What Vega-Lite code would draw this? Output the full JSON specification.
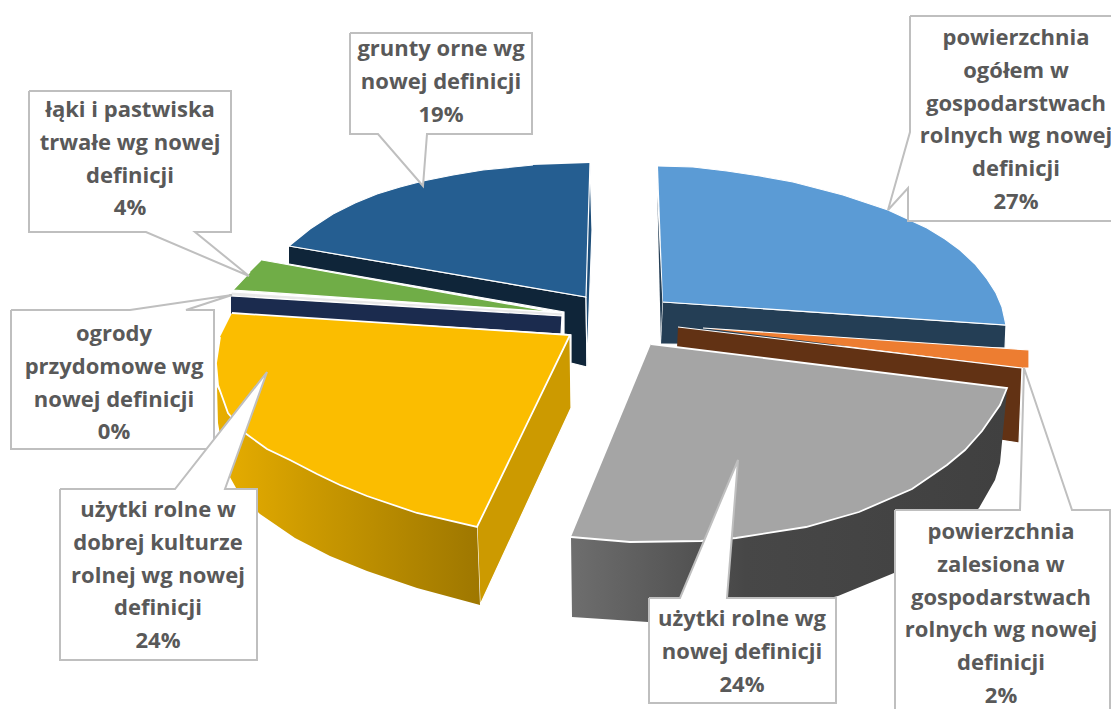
{
"$schema":"https://vega.github.io/schema/vega-lite/v6.json",
"width":1111,"height":709,"autosize":{"type":"none"},"padding":0,"background":"white",
"view":{"stroke":null},
"datasets":{
"shapes":[
{"g":"back","s":"grunty wall","x":289,"y":246},{"g":"back","s":"grunty wall","x":586,"y":297},{"g":"back","s":"grunty wall","x":587,"y":367},{"g":"back","s":"grunty wall","x":571,"y":363},{"g":"back","s":"grunty wall","x":571,"y":335},{"g":"back","s":"grunty wall","x":564,"y":334},{"g":"back","s":"grunty wall","x":564,"y":312},{"g":"back","s":"grunty wall","x":289,"y":264},
{"g":"back","s":"grunty side","x":590,"y":163},{"g":"back","s":"grunty side","x":592,"y":230},{"g":"back","s":"grunty side","x":587,"y":367},{"g":"back","s":"grunty side","x":586,"y":297},
{"g":"back","s":"grunty top","x":590,"y":163},{"g":"back","s":"grunty top","x":586,"y":297},{"g":"back","s":"grunty top","x":289,"y":246},{"g":"back","s":"grunty top","x":310,"y":229},{"g":"back","s":"grunty top","x":333,"y":214},{"g":"back","s":"grunty top","x":355,"y":203},{"g":"back","s":"grunty top","x":377,"y":194},{"g":"back","s":"grunty top","x":400,"y":187},{"g":"back","s":"grunty top","x":423,"y":181},{"g":"back","s":"grunty top","x":453,"y":175},{"g":"back","s":"grunty top","x":483,"y":170},{"g":"back","s":"grunty top","x":533,"y":165},
{"g":"back","s":"green top","x":262,"y":260},{"g":"back","s":"green top","x":553,"y":312},{"g":"back","s":"green top","x":233,"y":290},{"g":"back","s":"green top","x":250,"y":272},
{"g":"back","s":"ogrody top","x":232,"y":292},{"g":"back","s":"ogrody top","x":563,"y":313},{"g":"back","s":"ogrody top","x":562,"y":316},{"g":"back","s":"ogrody top","x":231,"y":296},
{"g":"back","s":"ogrody wall","x":231,"y":296},{"g":"back","s":"ogrody wall","x":562,"y":316},{"g":"back","s":"ogrody wall","x":561,"y":334},{"g":"back","s":"ogrody wall","x":231,"y":314},
{"g":"back","s":"blue side","x":657,"y":183},{"g":"back","s":"blue side","x":663,"y":302},{"g":"back","s":"blue side","x":661,"y":344},
{"g":"back","s":"blue wall","x":663,"y":302},{"g":"back","s":"blue wall","x":1006,"y":325},{"g":"back","s":"blue wall","x":1005,"y":348},{"g":"back","s":"blue wall","x":661,"y":344},
{"g":"back","s":"blue top","x":658,"y":166},{"g":"back","s":"blue top","x":693,"y":167},{"g":"back","s":"blue top","x":727,"y":171},{"g":"back","s":"blue top","x":760,"y":176},{"g":"back","s":"blue top","x":793,"y":182},{"g":"back","s":"blue top","x":843,"y":195},{"g":"back","s":"blue top","x":888,"y":210},{"g":"back","s":"blue top","x":927,"y":228},{"g":"back","s":"blue top","x":945,"y":239},{"g":"back","s":"blue top","x":960,"y":250},{"g":"back","s":"blue top","x":975,"y":264},{"g":"back","s":"blue top","x":987,"y":279},{"g":"back","s":"blue top","x":996,"y":293},{"g":"back","s":"blue top","x":1002,"y":307},{"g":"back","s":"blue top","x":1006,"y":325},{"g":"back","s":"blue top","x":663,"y":302},
{"g":"back","s":"orange top","x":703,"y":328},{"g":"back","s":"orange top","x":1029,"y":350},{"g":"back","s":"orange top","x":1029,"y":368},{"g":"back","s":"orange top","x":1023,"y":368},
{"g":"back","s":"brown wall","x":678,"y":327},{"g":"back","s":"brown wall","x":1022,"y":368},{"g":"back","s":"brown wall","x":1019,"y":443},{"g":"back","s":"brown wall","x":1000,"y":440},{"g":"back","s":"brown wall","x":677,"y":348},
{"g":"back","s":"yellow side","x":570,"y":335},{"g":"back","s":"yellow side","x":571,"y":408},{"g":"back","s":"yellow side","x":480,"y":605},{"g":"back","s":"yellow side","x":477,"y":527},
{"g":"yw","s":"yellow wall","x":477,"y":527},{"g":"yw","s":"yellow wall","x":480,"y":605},{"g":"yw","s":"yellow wall","x":417,"y":588},{"g":"yw","s":"yellow wall","x":367,"y":571},{"g":"yw","s":"yellow wall","x":330,"y":556},{"g":"yw","s":"yellow wall","x":295,"y":538},{"g":"yw","s":"yellow wall","x":260,"y":514},{"g":"yw","s":"yellow wall","x":240,"y":495},{"g":"yw","s":"yellow wall","x":226,"y":470},{"g":"yw","s":"yellow wall","x":218,"y":423},{"g":"yw","s":"yellow wall","x":217,"y":387},{"g":"yw","s":"yellow wall","x":245,"y":433},{"g":"yw","s":"yellow wall","x":317,"y":473},{"g":"yw","s":"yellow wall","x":417,"y":513},
{"g":"gw","s":"gray wall","x":571,"y":537},{"g":"gw","s":"gray wall","x":572,"y":617},{"g":"gw","s":"gray wall","x":648,"y":622},{"g":"gw","s":"gray wall","x":740,"y":620},{"g":"gw","s":"gray wall","x":838,"y":596},{"g":"gw","s":"gray wall","x":894,"y":573},{"g":"gw","s":"gray wall","x":945,"y":540},{"g":"gw","s":"gray wall","x":979,"y":508},{"g":"gw","s":"gray wall","x":995,"y":480},{"g":"gw","s":"gray wall","x":1000,"y":463},{"g":"gw","s":"gray wall","x":1007,"y":390},{"g":"gw","s":"gray wall","x":859,"y":512},
{"g":"front","s":"yellow top","x":232,"y":313},{"g":"front","s":"yellow top","x":570,"y":335},{"g":"front","s":"yellow top","x":477,"y":527},{"g":"front","s":"yellow top","x":417,"y":513},{"g":"front","s":"yellow top","x":367,"y":496},{"g":"front","s":"yellow top","x":340,"y":485},{"g":"front","s":"yellow top","x":317,"y":474},{"g":"front","s":"yellow top","x":290,"y":460},{"g":"front","s":"yellow top","x":267,"y":449},{"g":"front","s":"yellow top","x":245,"y":433},{"g":"front","s":"yellow top","x":228,"y":413},{"g":"front","s":"yellow top","x":218,"y":385},{"g":"front","s":"yellow top","x":216,"y":363},{"g":"front","s":"yellow top","x":220,"y":337},
{"g":"front","s":"gray top","x":651,"y":344},{"g":"front","s":"gray top","x":1007,"y":388},{"g":"front","s":"gray top","x":1000,"y":405},{"g":"front","s":"gray top","x":982,"y":431},{"g":"front","s":"gray top","x":965,"y":450},{"g":"front","s":"gray top","x":947,"y":465},{"g":"front","s":"gray top","x":912,"y":489},{"g":"front","s":"gray top","x":859,"y":512},{"g":"front","s":"gray top","x":806,"y":527},{"g":"front","s":"gray top","x":736,"y":538},{"g":"front","s":"gray top","x":701,"y":541},{"g":"front","s":"gray top","x":630,"y":542},{"g":"front","s":"gray top","x":571,"y":537},
{"g":"box","s":"c grunty","x":350,"y":33},{"g":"box","s":"c grunty","x":532,"y":33},{"g":"box","s":"c grunty","x":532,"y":134},{"g":"box","s":"c grunty","x":427,"y":134},{"g":"box","s":"c grunty","x":423,"y":186},{"g":"box","s":"c grunty","x":378,"y":134},{"g":"box","s":"c grunty","x":350,"y":134},{"g":"box","s":"c grunty","x":350,"y":33},
{"g":"box","s":"c laki","x":29,"y":91},{"g":"box","s":"c laki","x":231,"y":91},{"g":"box","s":"c laki","x":231,"y":232},{"g":"box","s":"c laki","x":195,"y":232},{"g":"box","s":"c laki","x":249,"y":276},{"g":"box","s":"c laki","x":146,"y":232},{"g":"box","s":"c laki","x":29,"y":232},{"g":"box","s":"c laki","x":29,"y":91},
{"g":"box","s":"c ogrody","x":11,"y":310},{"g":"box","s":"c ogrody","x":130,"y":310},{"g":"box","s":"c ogrody","x":232,"y":295},{"g":"box","s":"c ogrody","x":186,"y":310},{"g":"box","s":"c ogrody","x":214,"y":310},{"g":"box","s":"c ogrody","x":214,"y":449},{"g":"box","s":"c ogrody","x":11,"y":449},{"g":"box","s":"c ogrody","x":11,"y":310},
{"g":"box","s":"c dobrej","x":60,"y":489},{"g":"box","s":"c dobrej","x":175,"y":489},{"g":"box","s":"c dobrej","x":267,"y":372},{"g":"box","s":"c dobrej","x":225,"y":489},{"g":"box","s":"c dobrej","x":257,"y":489},{"g":"box","s":"c dobrej","x":257,"y":660},{"g":"box","s":"c dobrej","x":60,"y":660},{"g":"box","s":"c dobrej","x":60,"y":489},
{"g":"box","s":"c uzytki","x":649,"y":598},{"g":"box","s":"c uzytki","x":680,"y":598},{"g":"box","s":"c uzytki","x":738,"y":460},{"g":"box","s":"c uzytki","x":727,"y":598},{"g":"box","s":"c uzytki","x":836,"y":598},{"g":"box","s":"c uzytki","x":836,"y":703},{"g":"box","s":"c uzytki","x":649,"y":703},{"g":"box","s":"c uzytki","x":649,"y":598},
{"g":"box","s":"c zalesiona","x":895,"y":510},{"g":"box","s":"c zalesiona","x":1020,"y":510},{"g":"box","s":"c zalesiona","x":1024,"y":368},{"g":"box","s":"c zalesiona","x":1072,"y":510},{"g":"box","s":"c zalesiona","x":1110,"y":510},{"g":"box","s":"c zalesiona","x":1110,"y":712},{"g":"box","s":"c zalesiona","x":895,"y":712},{"g":"box","s":"c zalesiona","x":895,"y":510},
{"g":"box","s":"c ogolem","x":910,"y":16},{"g":"box","s":"c ogolem","x":1114,"y":16},{"g":"box","s":"c ogolem","x":1114,"y":221},{"g":"box","s":"c ogolem","x":908,"y":221},{"g":"box","s":"c ogolem","x":908,"y":188},{"g":"box","s":"c ogolem","x":888,"y":210},{"g":"box","s":"c ogolem","x":910,"y":132},{"g":"box","s":"c ogolem","x":910,"y":16}
],
"labels":[
{"label":"powierzchnia\nogółem w\ngospodarstwach\nrolnych wg nowej\ndefinicji\n27%","share":27,"x":1016,"y":38},
{"label":"powierzchnia\nzalesiona w\ngospodarstwach\nrolnych wg nowej\ndefinicji\n2%","share":2,"x":1001,"y":532},
{"label":"użytki rolne wg\nnowej definicji\n24%","share":24,"x":742,"y":619},
{"label":"użytki rolne w\ndobrej kulturze\nrolnej wg nowej\ndefinicji\n24%","share":24,"x":158,"y":510},
{"label":"ogrody\nprzydomowe wg\nnowej definicji\n0%","share":0,"x":114,"y":334},
{"label":"łąki i pastwiska\ntrwałe wg nowej\ndefinicji\n4%","share":4,"x":130,"y":110},
{"label":"grunty orne wg\nnowej definicji\n19%","share":19,"x":441,"y":49}
]
},
"layer":[
{"data":{"name":"shapes"},"transform":[{"filter":"datum.g==='back'"}],
 "mark":{"type":"line","stroke":"white","strokeWidth":1.2,"strokeJoin":"miter"},
 "encoding":{"x":{"field":"x","type":"quantitative","scale":{"domain":[0,1111]},"axis":null},"y":{"field":"y","type":"quantitative","scale":{"domain":[709,0]},"axis":null},"order":{"value":null},
 "fill":{"field":"s","type":"nominal","legend":null,"sort":null,"scale":{"domain":["grunty wall","grunty side","grunty top","green top","ogrody top","ogrody wall","blue side","blue wall","blue top","orange top","brown wall","yellow side","yellow top","gray top"],"range":["#0F2539","#1E4E79","#255E91","#70AD47","#E8E8E8","#1B2B4E","#243E55","#243E55","#5B9BD5","#ED7D31","#623214","#CC9A00","#FBBD00","#A5A5A5"]}}}},
{"data":{"name":"shapes"},"transform":[{"filter":"datum.g==='yw'"}],
 "mark":{"type":"line","strokeWidth":0,"fill":{"gradient":"linear","x1":0,"x2":1,"y1":0,"y2":0,"stops":[{"offset":0,"color":"#E8AE00"},{"offset":0.35,"color":"#CC9A00"},{"offset":1,"color":"#9E7700"}]}},
 "encoding":{"x":{"field":"x","type":"quantitative","scale":{"domain":[0,1111]},"axis":null},"y":{"field":"y","type":"quantitative","scale":{"domain":[709,0]},"axis":null},"order":{"value":null}}},
{"data":{"name":"shapes"},"transform":[{"filter":"datum.g==='gw'"}],
 "mark":{"type":"line","strokeWidth":0,"fill":{"gradient":"linear","x1":0,"x2":1,"y1":0,"y2":0,"stops":[{"offset":0,"color":"#6E6E6E"},{"offset":0.4,"color":"#474747"},{"offset":1,"color":"#404040"}]}},
 "encoding":{"x":{"field":"x","type":"quantitative","scale":{"domain":[0,1111]},"axis":null},"y":{"field":"y","type":"quantitative","scale":{"domain":[709,0]},"axis":null},"order":{"value":null}}},
{"data":{"name":"shapes"},"transform":[{"filter":"datum.g==='front'"}],
 "mark":{"type":"line","stroke":"white","strokeWidth":1.8,"strokeJoin":"miter"},
 "encoding":{"x":{"field":"x","type":"quantitative","scale":{"domain":[0,1111]},"axis":null},"y":{"field":"y","type":"quantitative","scale":{"domain":[709,0]},"axis":null},"order":{"value":null},
 "fill":{"field":"s","type":"nominal","legend":null,"sort":null}}},
{"data":{"name":"shapes"},"transform":[{"filter":"datum.g==='box'"}],
 "mark":{"type":"line","stroke":"#BFBFBF","strokeWidth":2,"fill":"white","strokeJoin":"miter","clip":true},
 "encoding":{"x":{"field":"x","type":"quantitative","scale":{"domain":[0,1111]},"axis":null},"y":{"field":"y","type":"quantitative","scale":{"domain":[709,0]},"axis":null},"order":{"value":null},"detail":{"field":"s"}}},
{"data":{"name":"labels"},
 "mark":{"type":"text","font":"Open Sans","fontWeight":"bold","fontSize":22,"color":"#595959","lineBreak":"\n","lineHeight":32.8,"align":"center","baseline":"middle"},
 "encoding":{"x":{"field":"x","type":"quantitative","scale":{"domain":[0,1111]},"axis":null},"y":{"field":"y","type":"quantitative","scale":{"domain":[709,0]},"axis":null},"text":{"field":"label"}}}
]
}
